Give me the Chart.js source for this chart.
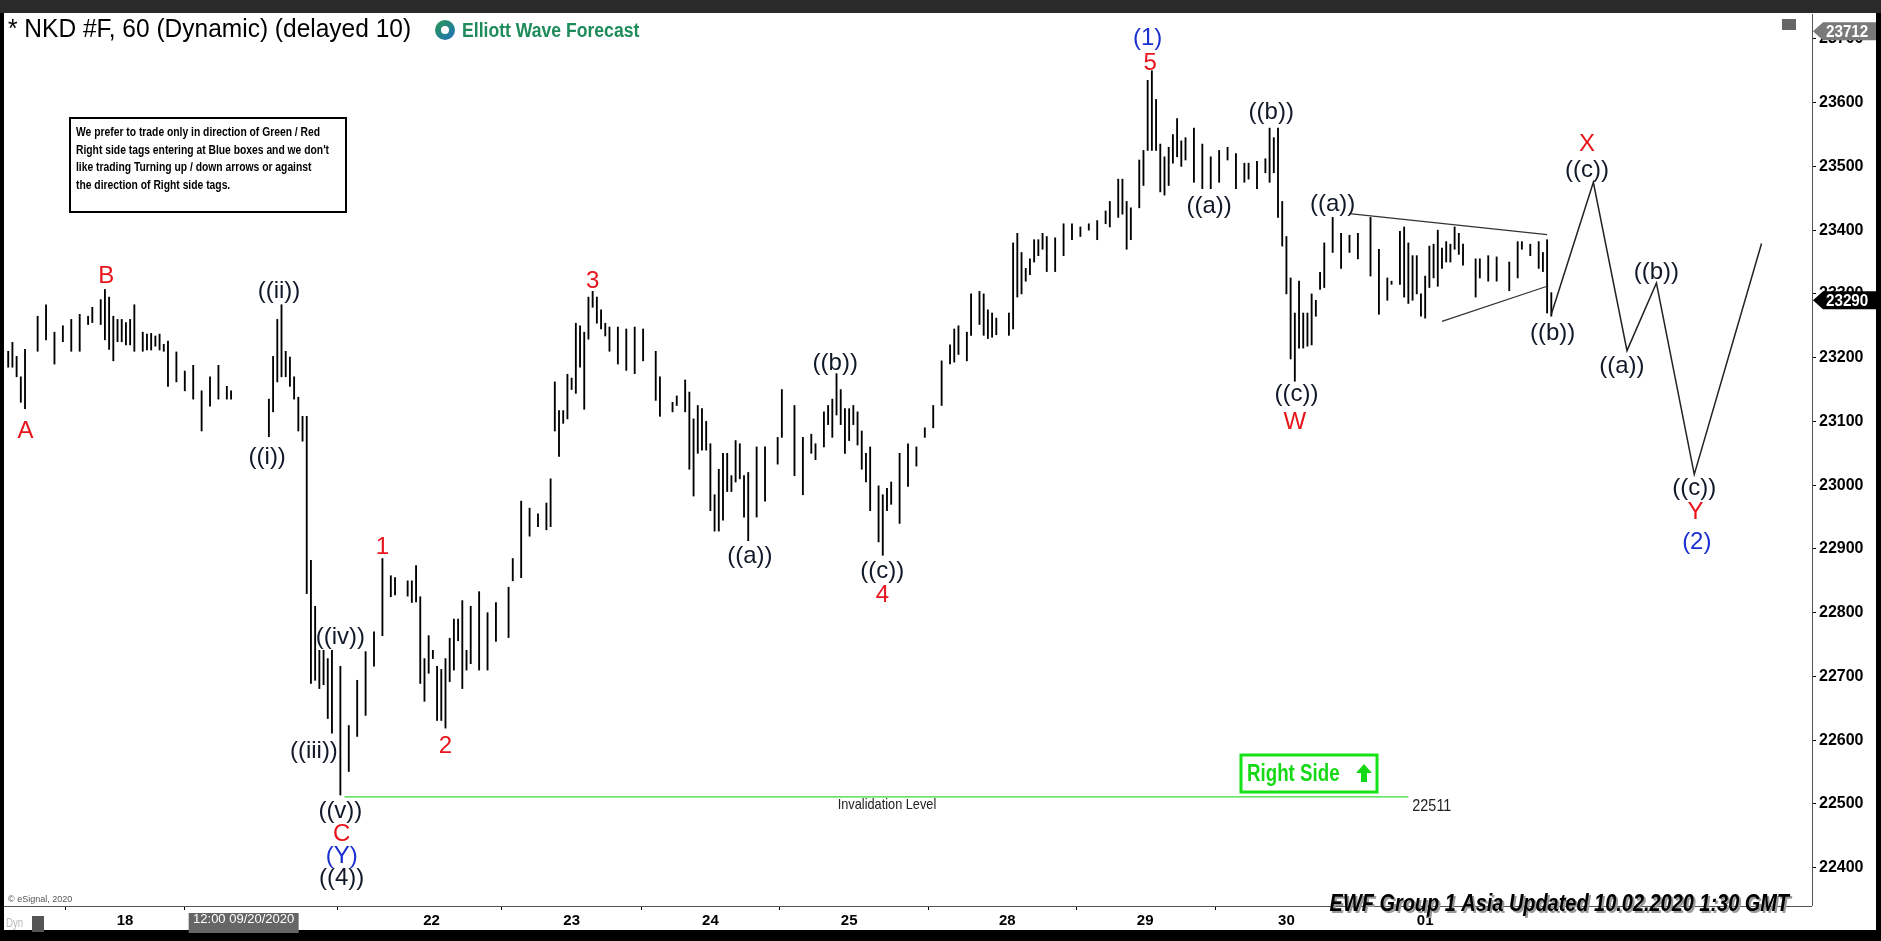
<!DOCTYPE html>
<html><head><meta charset="utf-8">
<script src="https://cdn.jsdelivr.net/npm/chart.js@4.4.1/dist/chart.umd.min.js"></script>
<style>html,body{margin:0;padding:0;background:#000;overflow:hidden}#w{position:relative;width:1881px;height:941px}</style>
</head><body><div id="w"><canvas id="c" width="1881" height="941"></canvas></div>
<script>
// ---- data (bar index, high, low) ----
const barT = [1,2,3,4,5,8,10,12,14,16,18,20,21,23,24,25,26,27,28,29,30,31,33,34,35,36,37,38,39,41,43,45,47,49,51,53,54,
63,64,65,66,67,68,69,70,71,72,73,74,75,76,77,78,80,82,84,86,88,90,92,93,96,97,98,99,100,101,102,103,104,105,106,107,108,109,110,111,113,115,117,120,121,123,125,127,129,130,131,132,133,134,135,136,137,138,139,140,141,142,143,144,146,148,150,152,155,156,159,160,162,163,164,165,166,167,
168,169,170,171,172,173,174,175,176,177,179,181,184,185,188,190,192,193,195,196,197,198,199,200,201,202,203,204,205,206,208,209,210,211,213,215,217,219,221,223,225,226,227,229,230,232,233,234,235,236,239,240,241,242,243,244,245,246,247,248,250,252,254,256,258,260,262,263,265,266,267,268,270,271,272,273,274,275,276,277,278,279,280,281,283,285,287,289,291,293,295,296,298,300,301,302,303,304,305,306,307,308,309,310,311,312,313,314,316,318,320,322,325,327,329,330,332,333,334,335,336,337,338,339,340,341,342,343,344,345,346,347,350,351,353,355,358,360,361,363,365,366,367,368];
const barHigh = [23210,23224,23202,23170,23213,23265,23283,23240,23250,23260,23268,23265,23279,23291,23307,23295,23265,23260,23260,23255,23260,23283,23240,23237,23238,23234,23237,23221,23226,23209,23179,23188,23148,23170,23188,23155,23148,
23135,23202,23260,23283,23210,23201,23170,23138,23108,23108,22882,22810,22741,22741,22728,22741,22716,22623,22694,22739,22770,22885,22858,22855,22850,22850,22874,22825,22728,22764,22741,22716,22711,22728,22760,22790,22790,22819,22741,22810,22833,22800,22816,22840,22885,22975,22964,22955,22972,23010,23162,23117,23117,23174,23168,23254,23250,23240,23295,23304,23295,23275,23254,23248,23248,23245,23248,23245,23210,23170,23130,23140,23165,23146,23104,23125,23120,23100,
23065,22985,23025,23050,23050,23015,23070,23065,23015,23020,23060,23060,23075,23150,23125,23075,23080,23065,23115,23125,23135,23175,23150,23120,23120,23125,23115,23085,23050,23060,22999,22985,22995,23005,23050,23065,23060,23090,23125,23195,23220,23245,23250,23240,23300,23304,23300,23275,23270,23262,23270,23380,23395,23365,23340,23355,23385,23385,23395,23390,23388,23410,23410,23405,23410,23415,23430,23445,23480,23480,23445,23435,23510,23525,23635,23650,23605,23535,23515,23530,23550,23575,23540,23545,23560,23535,23515,23525,23530,23520,23505,23505,23508,23512,23560,23545,23560,23445,23390,23325,23270,23320,23270,23270,23300,23290,23334,23380,23420,23395,23392,23395,23420,23370,23325,23320,23398,23405,23380,23360,23360,23300,23328,23375,23378,23400,23372,23382,23378,23405,23395,23378,23355,23355,23360,23358,23350,23382,23382,23378,23382,23365,23385,23302];
const barLow = [23185,23185,23170,23130,23120,23210,23228,23190,23225,23210,23210,23252,23255,23252,23228,23213,23195,23225,23225,23220,23220,23210,23210,23212,23212,23218,23212,23210,23155,23162,23148,23135,23085,23124,23135,23135,23135,
23076,23115,23162,23170,23170,23155,23135,23085,23069,22830,22689,22694,22681,22687,22634,22611,22514,22551,22606,22639,22716,22764,22825,22828,22826,22816,22817,22689,22661,22705,22728,22631,22631,22619,22692,22710,22756,22681,22710,22720,22710,22710,22755,22761,22850,22855,22920,22935,22930,22935,23085,23045,23097,23104,23150,23144,23185,23119,23229,23279,23254,23245,23234,23210,23190,23180,23175,23195,23133,23108,23115,23125,23115,23025,22983,23050,23055,23055,
22960,22928,22928,22945,22990,22990,23005,23010,22950,22913,22950,22975,23033,23075,23015,22985,23050,23040,23060,23095,23075,23110,23095,23050,23070,23095,23063,23025,23005,22960,22911,22890,22960,22970,22940,22998,23030,23075,23090,23125,23190,23193,23205,23195,23235,23252,23235,23230,23232,23236,23235,23245,23295,23300,23320,23330,23350,23360,23370,23335,23335,23360,23385,23390,23400,23385,23410,23405,23420,23425,23370,23385,23435,23470,23525,23525,23525,23460,23455,23470,23505,23515,23500,23510,23475,23465,23465,23475,23510,23465,23475,23480,23465,23490,23475,23490,23420,23375,23300,23198,23163,23215,23215,23218,23220,23265,23307,23310,23365,23340,23365,23355,23328,23268,23290,23315,23315,23295,23285,23290,23300,23265,23262,23310,23325,23312,23340,23350,23350,23370,23362,23345,23295,23325,23320,23320,23305,23325,23370,23360,23340,23335,23270,23265];
// projected path
const projT = [368,378,386,393,402,418];
const projV = [23268,23475,23211,23317,23017,23379];
// triangle
const triUpperT=[320,367], triUpperV=[23426,23393];
const triLowerT=[342,367], triLowerV=[23257,23312];
// invalidation
const invT=[81,334], invV=[22511,22511];
// x axis
const dayT=[28.8,57,101.7,135,168,201,238.6,271.4,305,338];
const dayLabels=['18','12:00 09/20/2020','22','23','24','25','28','29','30','01'];
// wave labels
const lblText=['A','B','((ii))','((i))','1','((iv))','((iii))','((v))','C','(Y)','((4))','2','3','((a))','((b))','((c))','4','(1)','5','((a))','((b))','((a))','((c))','W','X','((c))','((b))','((b))','((a))','((c))','Y','(2)'];
const lblT=[5.1,24.3,65.4,62.6,90,80,73.7,80,80.3,80.3,80.3,105,140,177.4,197.7,208.9,208.9,272,272.6,286.6,301.4,316,307.4,307,376.5,376.5,368.3,393,384.8,402,402.3,402.6];
const lblV=[23085,23328,23304,23044,22902,22761,22582,22488,22452,22418,22383,22590,23319,22889,23191,22865,22827,23701,23661,23437,23584,23441,23142,23098,23535,23494,23238,23334,23187,22995,22957,22910];
const lblKind=['r','r','k','k','r','k','k','k','r','b','k','r','r','k','k','k','r','b','r','k','k','k','k','r','r','k','k','k','k','k','r','b'];
const lastPrice=23290, highPrice=23712;

const COL={r:'#e8141c',k:'#111827',b:'#1a2fd0'};
const pts=(t,v)=>t.map((x,i)=>({x,y:v[i]}));
function nt(g,s,x,y,sx,align){g.save();g.translate(x,y);g.scale(sx,1);g.textAlign=align||'left';g.fillText(s,0,0);g.restore();}
const deco={id:'deco',
 beforeDraw(c){const g=c.ctx;g.save();g.fillStyle='#000';g.fillRect(0,0,1881,941);
  g.fillStyle='#2a2a2a';g.fillRect(0,0,1881,13);g.fillStyle='#fff';g.fillRect(4,13,1872,917);
  const xs=c.scales.x;if(xs){const px=xs.getPixelForValue(dayT[1]);g.fillStyle='#666';g.fillRect(px-55,913,110,20);}
  g.restore();},
 afterDraw(c){const g=c.ctx,xs=c.scales.x,ys=c.scales.y,a=c.chartArea;g.save();
  g.strokeStyle='#555';g.lineWidth=1;g.beginPath();g.moveTo(a.right+.5,a.top);g.lineTo(a.right+.5,a.bottom);g.moveTo(a.left,a.bottom+.5);g.lineTo(a.right,a.bottom+.5);g.stroke();
  g.textAlign='center';g.textBaseline='middle';g.font='24px "Liberation Sans", Arial, sans-serif';
  lblText.forEach((s,i)=>{g.fillStyle=COL[lblKind[i]];g.fillText(s,xs.getPixelForValue(lblT[i]),ys.getPixelForValue(lblV[i]));});
  g.fillStyle='#222';g.font='15px "Liberation Sans", Arial';nt(g,'Invalidation Level',xs.getPixelForValue(210),ys.getPixelForValue(invV[0])+8,0.85,'center');
  g.font='16px "Liberation Sans", Arial';nt(g,'22511',xs.getPixelForValue(invT[1])+4,ys.getPixelForValue(invV[0])+10,0.9);
  g.strokeStyle='#16e316';g.lineWidth=3;g.strokeRect(1241,755,136,37);
  g.fillStyle='#16d916';g.font='bold 24px "Liberation Sans", Arial';nt(g,'Right Side',1247,774,0.78);
  g.beginPath();g.moveTo(1364,764);g.lineTo(1372,773);g.lineTo(1367,773);g.lineTo(1367,782);g.lineTo(1361,782);g.lineTo(1361,773);g.lineTo(1356,773);g.closePath();g.fill();
  g.fillStyle='#000';g.font='25px "Liberation Sans", Arial';nt(g,'* NKD #F, 60 (Dynamic) (delayed 10)',8,30,0.98);
  const lg=g.createLinearGradient(435,18,455,40);lg.addColorStop(0,'#2a9d4a');lg.addColorStop(1,'#1f6fc0');
  g.fillStyle=lg;g.beginPath();g.arc(445,30,10,0,Math.PI*2);g.fill();g.fillStyle='#fff';g.beginPath();g.arc(445,30,4,0,Math.PI*2);g.fill();
  g.fillStyle='#1e8c5a';g.font='bold 20px "Liberation Sans", Arial';nt(g,'Elliott Wave Forecast',462,31,0.88);
  g.strokeStyle='#000';g.lineWidth=2;g.strokeRect(70,118,276,94);g.fillStyle='#000';g.font='bold 12px "Liberation Sans", Arial';
  ['We prefer to trade only in direction of Green / Red','Right side tags entering at Blue boxes and we don\'t','like trading Turning up / down arrows or against','the direction of Right side tags.'].forEach((s,i)=>nt(g,s,76,133+i*17.5,0.86));
  const bx=(v,bg,fg)=>{const y=ys.getPixelForValue(v);g.fillStyle=bg;g.beginPath();g.moveTo(a.right+1,y);g.lineTo(a.right+11,y-9);g.lineTo(1876,y-9);g.lineTo(1876,y+9);g.lineTo(a.right+11,y+9);g.closePath();g.fill();g.fillStyle=fg;g.font='bold 16px "Liberation Sans", Arial';nt(g,String(v),a.right+14,y+1,0.95);};
  bx(highPrice,'#7a7a7a','#fff');bx(lastPrice,'#000','#fff');
  g.fillStyle='#666';g.fillRect(1782,19,14,11);
  g.fillStyle='#555';g.font='9px "Liberation Sans", Arial';g.textAlign='left';g.fillText('© eSignal, 2020',8,900);
  g.fillStyle='#bbb';g.font='12px "Liberation Sans", Arial';nt(g,'Dyn',6,924,0.8);g.fillStyle='#555';g.fillRect(32,916,12,16);
  g.font='italic bold 24px "Liberation Sans", Arial';
  g.fillStyle='#999';nt(g,'EWF Group 1 Asia Updated 10.02.2020 1:30 GMT',1791,906,0.83,'right');g.fillStyle='#000';nt(g,'EWF Group 1 Asia Updated 10.02.2020 1:30 GMT',1789,904,0.83,'right');
  g.restore();}
};
new Chart(document.getElementById('c'),{
 data:{datasets:[
  {type:'bar',data:barT.map((t,i)=>({x:t,y:[barLow[i],barHigh[i]]})),backgroundColor:'#000',barThickness:1.2,grouped:false,order:2},
  {type:'line',data:pts(projT,projV),borderColor:'#222',borderWidth:1.5,pointRadius:0,order:1},
  {type:'line',data:pts(triUpperT,triUpperV),borderColor:'#333',borderWidth:1.3,pointRadius:0},
  {type:'line',data:pts(triLowerT,triLowerV),borderColor:'#333',borderWidth:1.3,pointRadius:0},
  {type:'line',data:pts(invT,invV),borderColor:'#33dd33',borderWidth:1.3,pointRadius:0}
 ]},
 plugins:[deco],
 options:{responsive:false,animation:false,devicePixelRatio:1,
  layout:{padding:{top:14,left:4,right:5,bottom:11}},
  plugins:{legend:{display:false},tooltip:{enabled:false}},
  scales:{
   x:{type:'linear',min:0,max:430,offset:false,
     afterBuildTicks(s){s.ticks=dayT.map(v=>({value:v}));},
     afterFit(s){s.height=24;},
     ticks:{autoSkip:false,maxRotation:0,color:c=>c.index===1?'#fff':'#000',font:c=>({family:'"Liberation Sans", Arial',weight:c.index===1?'normal':'bold',size:c.index===1?13:15}),padding:2,
       callback(v,i){return dayLabels[i];}},
     grid:{drawOnChartArea:false,tickLength:4,color:'#000'},border:{display:false}},
   y:{position:'right',min:22340,max:23739,
     afterBuildTicks(s){const t=[];for(let v=22400;v<=23700;v+=100)t.push({value:v});s.ticks=t;},
     afterFit(s){s.width=64;},
     ticks:{color:'#000',font:{family:'"Liberation Sans", Arial',weight:'bold',size:16},padding:3,callback:v=>String(v)},
     grid:{drawOnChartArea:false,tickLength:4,color:'#000'},border:{display:false}}
  }}
});
</script></body></html>
